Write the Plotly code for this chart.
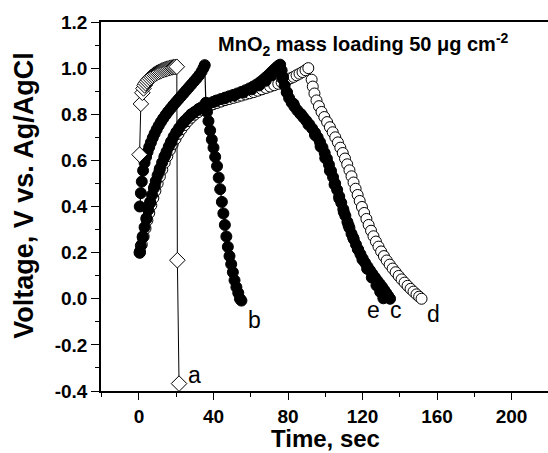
import plotly.graph_objects as go

# ---- data ----
a_t = [0.3, 1.0, 1.8, 2.4, 3.0, 3.6, 4.3, 5.0, 5.8, 6.6, 7.4, 8.2, 9.0, 9.8, 10.6, 11.4, 12.2, 13.0,
       13.8, 14.6, 15.4, 16.2, 17.0, 17.8, 18.6, 19.4, 20.3, 20.6, 21.5]
a_v = [0.625, 0.845, 0.893, 0.912, 0.925, 0.934, 0.942, 0.949, 0.956, 0.962, 0.967, 0.972, 0.976, 0.980,
       0.983, 0.986, 0.989, 0.992, 0.994, 0.996, 0.998, 1.000, 1.002, 1.003, 1.004, 1.005, 1.006, 0.167, -0.368]

b_t = [0.4, 1.0, 1.5, 2.2, 3.0, 3.8, 4.6, 5.5, 6.4, 7.4, 8.4, 9.5, 10.6, 11.8, 13.0, 14.3, 15.6, 17.0,
       18.4, 19.8, 21.2, 22.6, 24.0, 25.4, 26.8, 28.2, 29.6, 31.0, 32.4, 33.6, 34.6, 35.3,
       35.9, 36.5, 37.3, 38.2, 39.1, 40.0, 40.9, 41.9, 42.8, 43.6, 44.5, 45.3, 46.1, 46.9, 47.7,
       48.6, 49.5, 50.4, 51.3, 52.3, 53.3, 54.2, 55.0]
b_v = [0.400, 0.458, 0.508, 0.556, 0.590, 0.615, 0.637, 0.658, 0.678, 0.698, 0.716, 0.734, 0.751, 0.767,
       0.782, 0.797, 0.811, 0.825, 0.839, 0.852, 0.865, 0.878, 0.891, 0.904, 0.917, 0.930, 0.943, 0.956,
       0.970, 0.985, 1.000, 1.013,
       0.850, 0.810, 0.770, 0.730, 0.690, 0.655, 0.615, 0.575, 0.525, 0.475, 0.420, 0.370, 0.320,
       0.270, 0.225, 0.185, 0.150, 0.115, 0.080, 0.050, 0.025, 0.0, -0.008]

c_t = [0.3, 1.0, 2.0, 3.0, 4.0, 5.0, 6.0, 7.0, 8.0, 9.0, 10.0, 11.2, 12.4, 13.6, 14.8, 16.0, 17.3,
       18.6, 20.0, 21.5, 23.0, 24.6, 26.3, 28.0, 29.8, 31.7, 33.6, 35.6, 37.6, 39.7, 41.8, 44.0,
       46.2, 48.4, 50.6, 52.8, 55.0, 57.2, 59.3, 61.3, 63.2, 65.0, 66.7, 68.3, 69.8, 71.2, 72.5,
       73.7, 74.8, 75.8,
       76.6, 77.3, 78.2, 79.3, 80.6, 82.0, 83.5, 85.0, 86.6, 88.2, 89.8, 91.4, 93.0, 94.5, 95.9,
       97.2, 98.5, 99.7, 100.9, 102.0, 103.1, 104.2, 105.3, 106.4, 107.5, 108.6, 109.7, 110.8,
       111.9, 113.0, 114.1, 115.3, 116.5, 117.7, 118.9, 120.1, 121.4, 122.7, 124.0, 125.3, 126.6,
       127.9, 129.2, 130.5, 131.7, 132.8, 133.8, 134.8]
c_v = [0.200, 0.230, 0.270, 0.310, 0.350, 0.385, 0.420, 0.450, 0.480, 0.510, 0.535, 0.565, 0.590,
       0.615, 0.638, 0.660, 0.682, 0.703, 0.722, 0.740, 0.757, 0.772, 0.786, 0.798, 0.810, 0.820,
       0.830, 0.838, 0.846, 0.853, 0.860, 0.866, 0.872, 0.878, 0.884, 0.890, 0.897, 0.904, 0.912,
       0.920, 0.929, 0.939, 0.950, 0.961, 0.972, 0.983, 0.993, 1.002, 1.010, 1.015,
       0.990, 0.960, 0.925, 0.895, 0.870, 0.850, 0.833, 0.817, 0.802, 0.787, 0.772, 0.756, 0.738,
       0.720, 0.700, 0.679, 0.656, 0.632, 0.607, 0.581, 0.554, 0.527, 0.500, 0.472, 0.444, 0.416,
       0.388, 0.360, 0.333, 0.307, 0.282, 0.258, 0.235, 0.213, 0.193, 0.174, 0.156, 0.139, 0.123,
       0.108, 0.093, 0.079, 0.065, 0.051, 0.037, 0.024, 0.012, 0.0]

e_t = [0.5, 2.0, 4.0, 6.0, 8.5, 11.0, 14.0, 17.0, 20.5, 24.0, 28.0, 32.0, 36.5, 41.0, 46.0, 51.0,
       56.0, 60.5, 64.5, 68.0, 71.0, 73.5, 75.5,
       77.0, 79.5, 83.0, 87.0, 91.0, 94.5, 97.5, 100.0, 102.5, 105.0, 107.5, 110.0, 112.5, 115.0,
       117.5, 120.0, 122.5, 125.0, 127.5, 129.5, 131.2]
e_v = [0.205, 0.265, 0.345, 0.415, 0.490, 0.555, 0.620, 0.675, 0.725, 0.765, 0.800, 0.823, 0.843,
       0.857, 0.869, 0.881, 0.894, 0.908, 0.925, 0.945, 0.968, 0.990, 1.005,
       0.955, 0.895, 0.845, 0.800, 0.755, 0.710, 0.660, 0.610, 0.555, 0.495, 0.435, 0.375, 0.318,
       0.265, 0.215, 0.170, 0.130, 0.092, 0.058, 0.030, 0.002]

d_t = [0.5, 1.5, 2.5, 3.5, 4.5, 5.5, 6.6, 7.7, 8.8, 10.0, 11.2, 12.5, 13.8, 15.2, 16.6, 18.1, 19.6,
       21.2, 22.8, 24.5, 26.2, 28.0, 29.8, 31.7, 33.6, 35.6, 37.6, 39.7, 41.8, 44.0, 46.2, 48.4,
       50.6, 52.8, 55.0, 57.2, 59.4, 61.6, 63.8, 66.0, 68.2, 70.4, 72.6, 74.8, 76.6, 78.2, 79.8,
       81.4, 83.0, 84.6, 86.2, 87.8, 89.4, 90.9,
       92.7, 93.3, 94.2, 95.3, 96.6, 98.0, 99.5, 101.0, 102.5, 104.0, 105.4, 106.8, 108.1, 109.4,
       110.6, 111.8, 113.0, 114.1, 115.2, 116.3, 117.4, 118.5, 119.7, 120.9, 122.1, 123.3, 124.6,
       125.9, 127.2, 128.6, 130.0, 131.5, 133.0, 134.6, 136.2, 137.8, 139.4, 141.0, 142.6, 144.2,
       145.8, 147.4, 149.0, 150.4, 151.7]
d_v = [0.200, 0.235, 0.270, 0.305, 0.340, 0.372, 0.405, 0.437, 0.468, 0.500, 0.530, 0.560, 0.590,
       0.618, 0.645, 0.670, 0.693, 0.715, 0.735, 0.753, 0.770, 0.785, 0.798, 0.809, 0.819, 0.828,
       0.836, 0.843, 0.849, 0.855, 0.861, 0.866, 0.871, 0.876, 0.881, 0.886, 0.891, 0.896, 0.902,
       0.908, 0.914, 0.920, 0.926, 0.932, 0.938, 0.944, 0.950, 0.956, 0.962, 0.969, 0.976, 0.983,
       0.991, 1.000,
       0.950, 0.920, 0.890, 0.860, 0.835, 0.810, 0.788, 0.766, 0.744, 0.722, 0.700, 0.678, 0.655,
       0.632, 0.608, 0.583, 0.557, 0.531, 0.504, 0.477, 0.450, 0.424, 0.398, 0.372, 0.346, 0.320,
       0.295, 0.271, 0.248, 0.226, 0.205, 0.185, 0.166, 0.148, 0.131, 0.115, 0.099, 0.084, 0.070,
       0.056, 0.043, 0.031, 0.019, 0.009, 0.0]

curve_labels = ["a", "b", "e", "c", "d"]
label_t = [30.0, 62.0, 125.8, 137.8, 158.0]
label_v = [-0.33, -0.09, -0.05, -0.05, -0.065]

x_ticks = [0, 40, 80, 120, 160, 200]
y_ticks = [-0.4, -0.2, 0.0, 0.2, 0.4, 0.6, 0.8, 1.0, 1.2]

FONT = "Liberation Sans, Arial, sans-serif"

fig = go.Figure()

# d: open circles
fig.add_trace(go.Scatter(x=d_t, y=d_v, mode="lines+markers",
                         line=dict(color="black", width=1),
                         marker=dict(symbol="circle", size=11, color="white",
                                     line=dict(color="black", width=1))))
# e: filled circles
fig.add_trace(go.Scatter(x=e_t, y=e_v, mode="lines+markers",
                         line=dict(color="black", width=1),
                         marker=dict(symbol="circle", size=11, color="black",
                                     line=dict(color="black", width=1))))
# c: filled circles
fig.add_trace(go.Scatter(x=c_t, y=c_v, mode="lines+markers",
                         line=dict(color="black", width=1),
                         marker=dict(symbol="circle", size=11, color="black",
                                     line=dict(color="black", width=1))))
# b: filled circles
fig.add_trace(go.Scatter(x=b_t, y=b_v, mode="lines+markers",
                         line=dict(color="black", width=1.2),
                         marker=dict(symbol="circle", size=11, color="black",
                                     line=dict(color="black", width=1))))
# a: open diamonds
fig.add_trace(go.Scatter(x=a_t, y=a_v, mode="lines+markers",
                         line=dict(color="black", width=1),
                         marker=dict(symbol="diamond", size=12, color="white",
                                     line=dict(color="black", width=1))))

for lab, lt, lv in zip(curve_labels, label_t, label_v):
    fig.add_annotation(x=lt, y=lv, xref="x", yref="y", text=lab, showarrow=False,
                       xanchor="center", yanchor="middle",
                       font=dict(family=FONT, size=23, color="black"))

fig.add_annotation(x=0.588, y=0.938, xref="paper", yref="paper",
                   xanchor="center", yanchor="middle",
                   text="<b>MnO<sub>2</sub> mass loading 50 μg cm<sup>-2</sup></b>",
                   showarrow=False, font=dict(family=FONT, size=20, color="black"))

fig.add_annotation(x=0.503, y=-0.13, xref="paper", yref="paper", text="<b>Time, sec</b>",
                   xanchor="center", yanchor="middle",
                   showarrow=False, font=dict(family=FONT, size=24, color="black"))
fig.add_annotation(x=-0.173, y=0.531, xref="paper", yref="paper", textangle=-90,
                   xanchor="center", yanchor="middle",
                   text="<b>Voltage, V vs. Ag/AgCl</b>",
                   showarrow=False, font=dict(family=FONT, size=27, color="black"))

fig.update_layout(
    width=548, height=453,
    margin=dict(l=101, r=0, t=22, b=62),
    paper_bgcolor="white", plot_bgcolor="white",
    showlegend=False,
    font=dict(family=FONT, color="black"),
)
fig.update_xaxes(range=[-20.4, 219.6], tickvals=x_ticks,
                 ticktext=[f"<b>{v}</b>" for v in x_ticks],
                 ticks="outside", ticklen=7, tickwidth=1.3, tickcolor="black",
                 minor=dict(dtick=20, tick0=0, ticks="outside", ticklen=4, tickwidth=1.3, tickcolor="black"),
                 showline=True, linecolor="black", linewidth=1.5, mirror=True,
                 showgrid=False, zeroline=False,
                 tickfont=dict(family=FONT, size=19, color="black"))
fig.update_yaxes(range=[-0.4, 1.2], tickvals=y_ticks,
                 ticktext=[f"<b>{v:.1f}</b>" for v in y_ticks],
                 ticks="outside", ticklen=8, tickwidth=1.3, tickcolor="black",
                 minor=dict(dtick=0.1, tick0=0, ticks="outside", ticklen=4, tickwidth=1.3, tickcolor="black"),
                 showline=True, linecolor="black", linewidth=1.5, mirror=False,
                 showgrid=False, zeroline=False,
                 tickfont=dict(family=FONT, size=19, color="black"))

fig.write_html("out.html")
